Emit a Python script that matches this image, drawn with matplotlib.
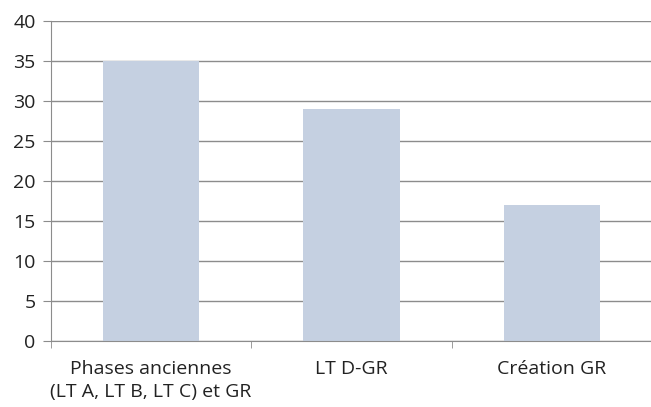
import matplotlib.pyplot as plt
import numpy as np

categories = ['Phases anciennes\n(LT A, LT B, LT C) et GR', 'LT D-GR', 'Création GR']
values = [35, 29, 17]

plt.rcParams['font.family'] = ['Open Sans', 'DejaVu Sans']

fig = plt.figure(figsize=(6.51, 4.07), dpi=100)
ax = fig.add_axes([51/651, 66/407, 601/651, 320/407])

x = np.arange(len(categories))
ax.bar(x, values, width=0.48, color='#c5d0e1', zorder=2)

ax.set_xlim(-0.5, 2.5)
ax.set_ylim(0, 40)
ax.set_yticks(np.arange(0, 41, 5))
ax.yaxis.grid(True, color='#8c8c8c', linewidth=1.0, zorder=0)

ax.set_xticks(x)
ax.set_xticklabels(categories, fontsize=14, color='#222222', linespacing=1.3)
ax.set_xticks([-0.5, 0.5, 1.5, 2.5], minor=True)
ax.tick_params(axis='x', which='major', length=0, pad=14)
ax.tick_params(axis='x', which='minor', length=5, color='#8c8c8c')
ax.tick_params(axis='y', length=6, color='#8c8c8c', labelsize=14, labelcolor='#222222', pad=5)

for s in ['top', 'right']:
    ax.spines[s].set_visible(False)
for s in ['left', 'bottom']:
    ax.spines[s].set_color('#8c8c8c')

fig.savefig('out.png', dpi=100)
